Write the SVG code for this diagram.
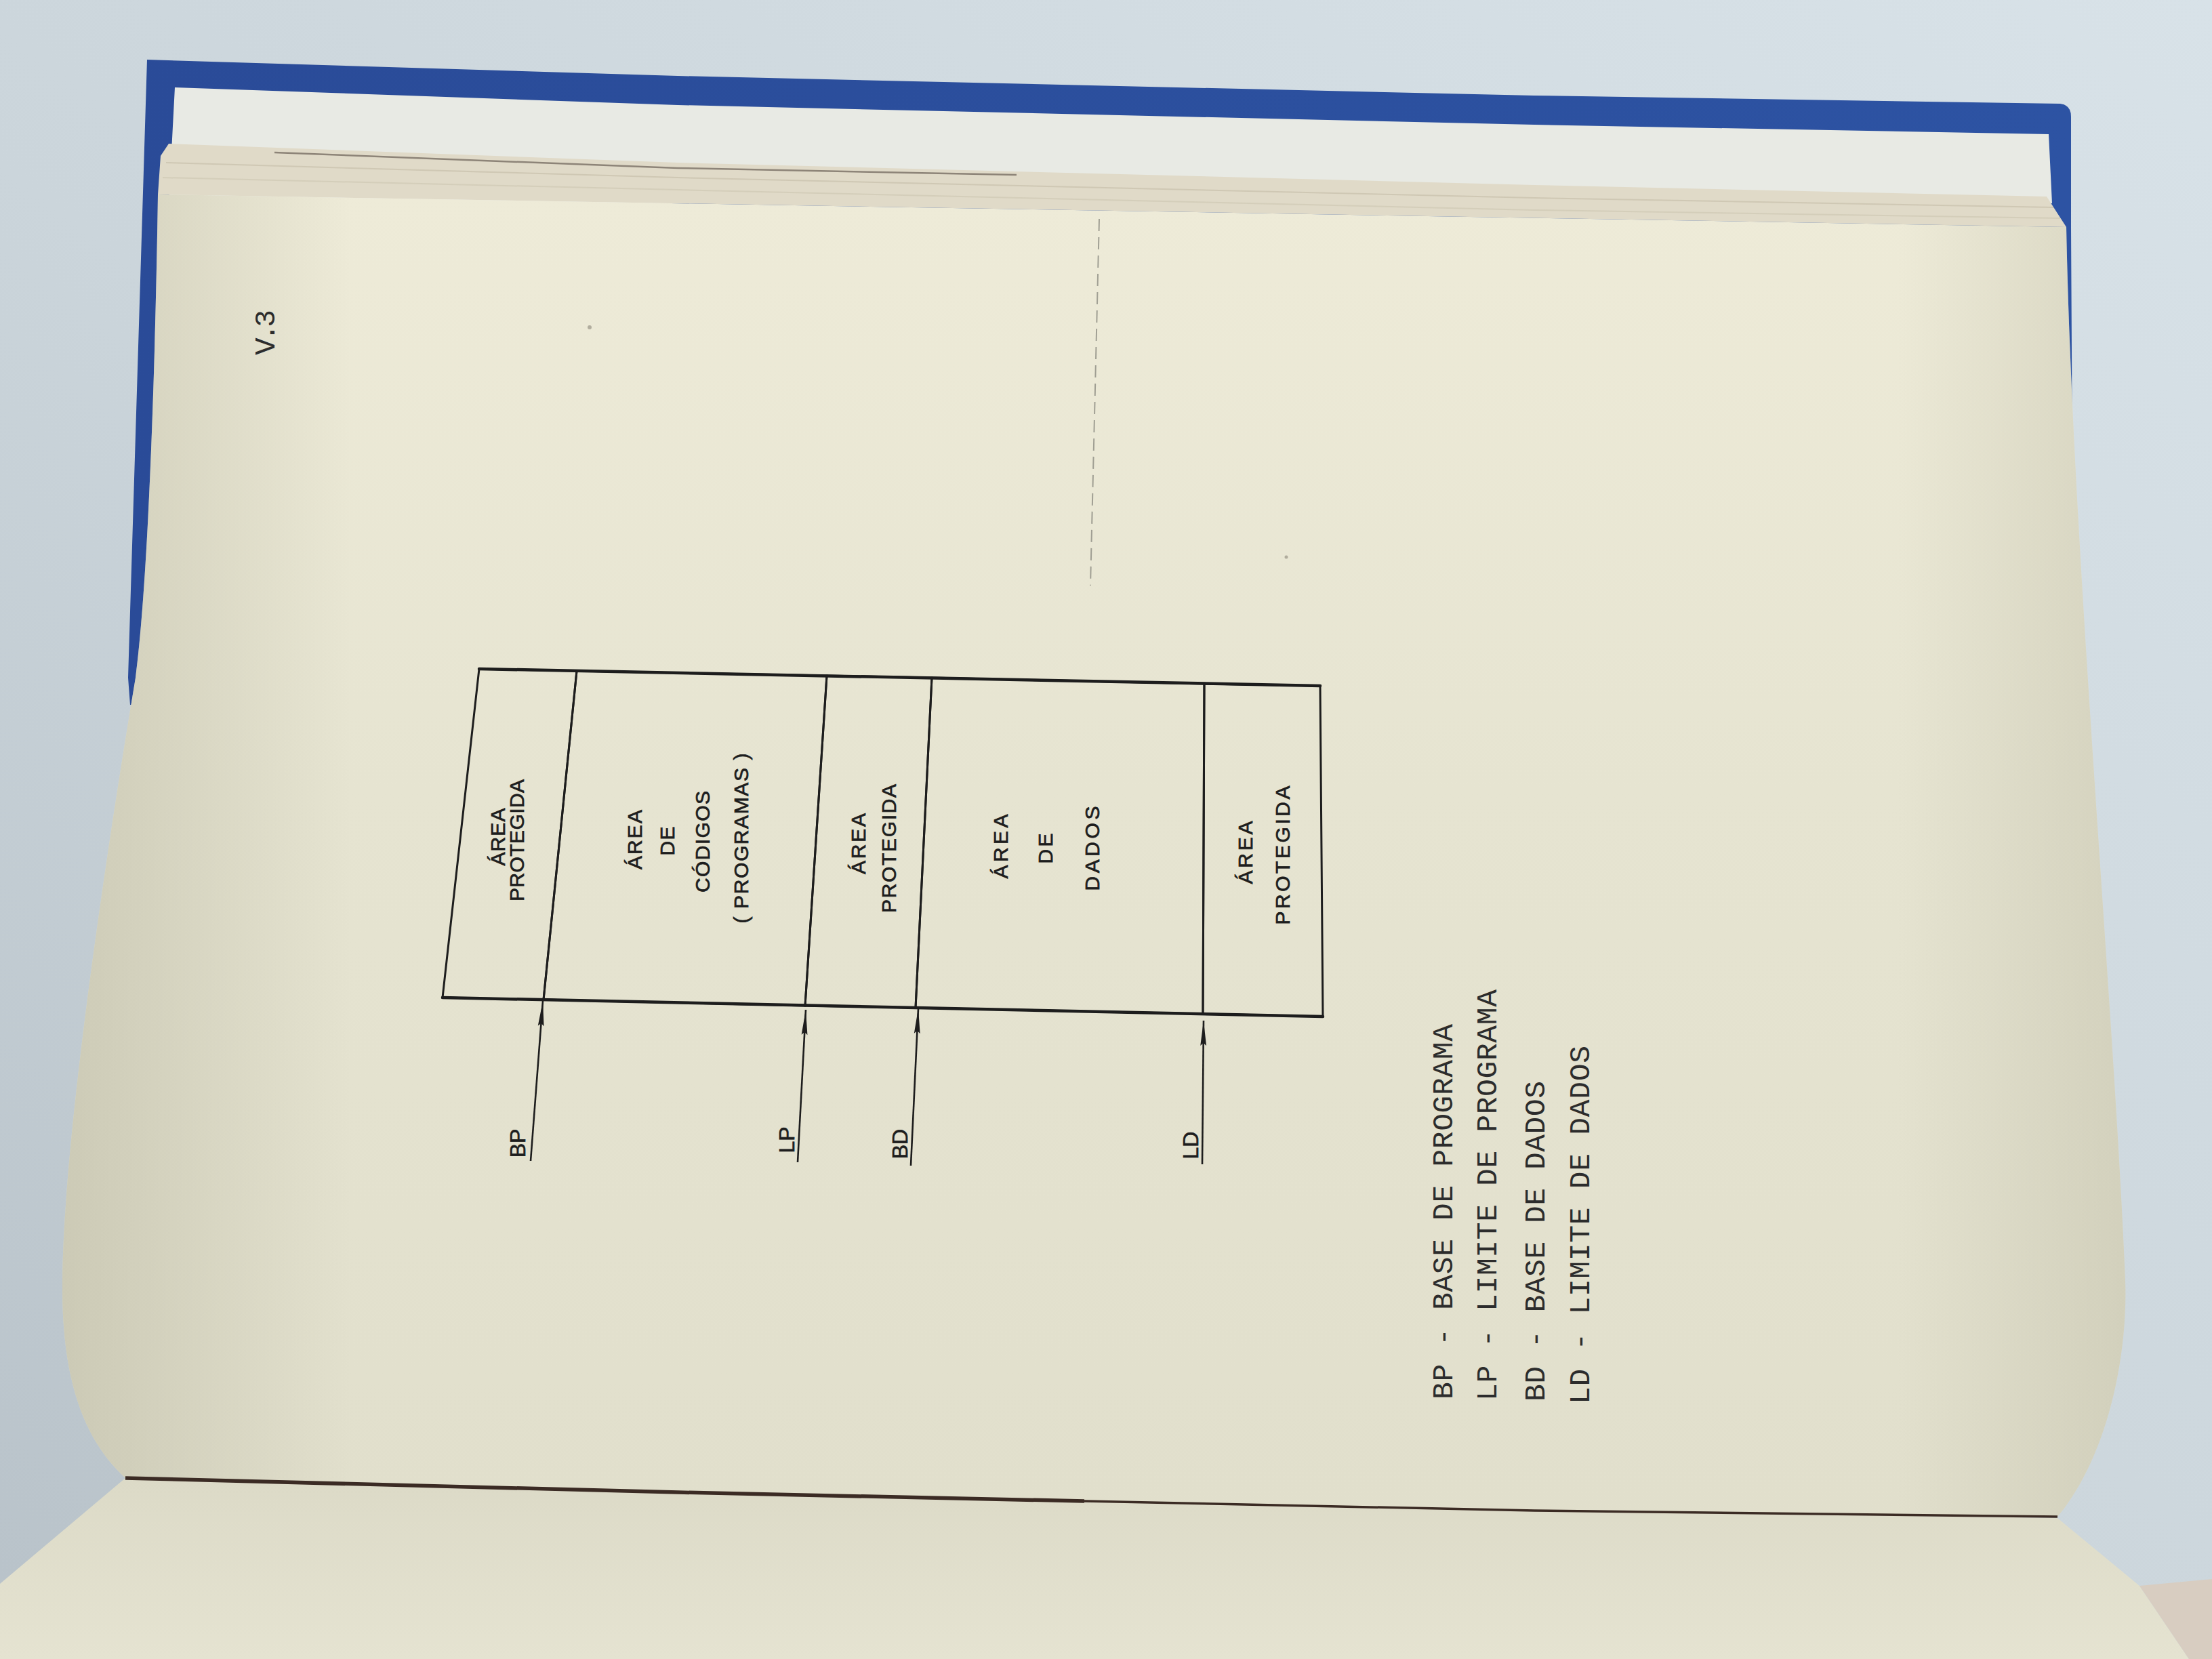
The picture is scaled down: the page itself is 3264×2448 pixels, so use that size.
<svg xmlns="http://www.w3.org/2000/svg" width="3264" height="2448" viewBox="0 0 3264 2448">
  <defs>
    <linearGradient id="bg" x1="1" y1="0" x2="0" y2="1">
      <stop offset="0" stop-color="#d8e2e8"/>
      <stop offset="0.55" stop-color="#cbd5db"/>
      <stop offset="1" stop-color="#b8c2c9"/>
    </linearGradient>
    <linearGradient id="paper" x1="0" y1="0" x2="0" y2="1">
      <stop offset="0" stop-color="#eeebd8"/>
      <stop offset="0.45" stop-color="#e6e4d1"/>
      <stop offset="1" stop-color="#e1dfcc"/>
    </linearGradient>
    <linearGradient id="paperEdgeL" x1="0" y1="0" x2="1" y2="0">
      <stop offset="0" stop-color="#bdbba6" stop-opacity="0.6"/>
      <stop offset="1" stop-color="#bdbba6" stop-opacity="0"/>
    </linearGradient>
    <linearGradient id="paperEdgeR" x1="1" y1="0" x2="0" y2="0">
      <stop offset="0" stop-color="#c2c0ab" stop-opacity="0.5"/>
      <stop offset="1" stop-color="#c2c0ab" stop-opacity="0"/>
    </linearGradient>
    <linearGradient id="lower" x1="0" y1="0" x2="0" y2="1">
      <stop offset="0" stop-color="#dcdac7"/>
      <stop offset="1" stop-color="#e5e3d1"/>
    </linearGradient>
    <linearGradient id="cover" x1="0" y1="0" x2="1" y2="0">
      <stop offset="0" stop-color="#2a4b98"/>
      <stop offset="1" stop-color="#2d53a3"/>
    </linearGradient>
    <marker id="head" markerUnits="userSpaceOnUse" markerWidth="40" markerHeight="12" viewBox="0 0 40 12" refX="38" refY="6" orient="auto">
      <path d="M1,1.6 L38,6 L1,10.4 L5,6 Z" fill="#1d1d1d"/>
    </marker>
    <style>
      .cell { fill: none; stroke: #1d1d1d; stroke-width: 3; }
      .frame { fill: none; stroke: #1d1d1d; stroke-width: 4.5; stroke-linecap: round; }
      .lbl { font-family: "Liberation Sans", Arial, sans-serif; font-size: 30px; fill: #1d1d1d; stroke: #1d1d1d; stroke-width: 0.7; text-anchor: middle; }
      .ptr { font-family: "Liberation Sans", Arial, sans-serif; font-size: 32px; fill: #1d1d1d; stroke: #1d1d1d; stroke-width: 0.6; text-anchor: middle; }
      .leg { font-family: "Liberation Mono", "Courier New", monospace; font-size: 43px; fill: #2c2c2c; }
      .conn { fill: none; stroke: #1d1d1d; stroke-width: 2.6; marker-end: url(#head); }
    </style>
  </defs>

  <!-- table surface -->
  <rect x="0" y="0" width="3264" height="2448" fill="url(#bg)"/>

  <!-- blue hard cover -->
  <path d="M217,88 L1000,112 L2264,141 L3040,153 Q3056,155 3056,172 L3056,335 L3058,700 L2000,1000 L192,1040 L189,1000 Z" fill="url(#cover)"/>

  <!-- inside of the cover / endpaper -->
  <path d="M258,129 L1000,155 L2264,184 L3023,198 L3028,300 L249,300 Z" fill="#e8eae4"/>

  <!-- edges of the page block -->
  <path d="M249,212 L1000,240 L2264,273 L3020,290 L3049,335 L233,287 L237,230 Z" fill="#e0dac8"/>
  <path d="M405,225 L1000,248 L1500,258" fill="none" stroke="#6a5f55" stroke-width="2.5" opacity="0.7"/>
  <path d="M245,240 L1000,262 L2264,292 L3030,306" fill="none" stroke="#cbc3af" stroke-width="2" opacity="0.8"/>
  <path d="M240,262 L1000,280 L2264,310 L3040,322" fill="none" stroke="#d1cab7" stroke-width="2" opacity="0.8"/>

  <!-- lower facing page below the fold -->
  <path d="M185,2181 L1000,2202 L2264,2229 L3036,2240 L3157,2340 L3230,2448 L0,2448 L0,2337 Z" fill="url(#lower)"/>
  <path d="M3157,2340 L3264,2330 L3264,2448 L3230,2448 Z" fill="#d8cdc1"/>

  <!-- the printed page -->
  <path d="M233,287 L3049,335 C3058,800 3120,1500 3136,1890 C3140,2000 3110,2150 3036,2238 L2264,2229 L1000,2202 L185,2181 C130,2130 92,2050 92,1900 C92,1700 150,1300 200,1000 C220,850 230,500 233,287 Z" fill="url(#paper)"/>
  <path d="M233,287 L520,292 L520,2188 L185,2181 C130,2130 92,2050 92,1900 C92,1700 150,1300 200,1000 C220,850 230,500 233,287 Z" fill="url(#paperEdgeL)"/>
  <path d="M2800,330 L3049,335 C3058,800 3120,1500 3136,1890 C3140,2000 3110,2150 3036,2238 L2800,2234 Z" fill="url(#paperEdgeR)"/>

  <!-- binding fold, heavier toward the left -->
  <path d="M185,2181 L1000,2202 L1600,2215" fill="none" stroke="#3b2b24" stroke-width="5.5"/>
  <path d="M1600,2215 L2264,2229 L3036,2238" fill="none" stroke="#3b2b24" stroke-width="3.5"/>

  <!-- faint show-through line and specks on the paper -->
  <line x1="1622" y1="323" x2="1609" y2="864" stroke="#6f6f68" stroke-width="2" stroke-dasharray="18 9" opacity="0.6"/>
  <circle cx="870" cy="483" r="3" fill="#8a8578" opacity="0.6"/>
  <circle cx="1898" cy="822" r="2.5" fill="#8a8578" opacity="0.6"/>

  <!-- page number -->
  <text class="leg" font-size="38" transform="translate(405,524) rotate(-90)" textLength="67" lengthAdjust="spacing">V.3</text>

  <!-- memory layout: outer frame -->
  <g id="frame">
    <line class="frame" x1="707" y1="987" x2="1948" y2="1012"/>
    <line class="frame" x1="653" y1="1472" x2="1952" y2="1500"/>
  </g>

  <g id="area-protegida-1">
    <polygon class="cell" points="707,987 851,990 802,1475 653,1472"/>
    <text class="lbl" transform="translate(745,1235) rotate(-90)" textLength="85" lengthAdjust="spacing">ÁREA</text>
    <text class="lbl" transform="translate(773,1240) rotate(-90)" textLength="180" lengthAdjust="spacing">PROTEGIDA</text>
  </g>

  <g id="area-codigos">
    <polygon class="cell" points="851,990 1220,997 1188,1484 802,1475"/>
    <text class="lbl" transform="translate(947,1239) rotate(-90)" textLength="88" lengthAdjust="spacing">ÁREA</text>
    <text class="lbl" transform="translate(995,1241) rotate(-90)" textLength="43" lengthAdjust="spacing">DE</text>
    <text class="lbl" transform="translate(1047,1242) rotate(-90)" textLength="150" lengthAdjust="spacing">CÓDIGOS</text>
    <text class="lbl" transform="translate(1104,1237) rotate(-90)" textLength="251" lengthAdjust="spacing">( PROGRAMAS )</text>
  </g>

  <g id="area-protegida-2">
    <polygon class="cell" points="1220,997 1375,1000 1351,1487 1188,1484"/>
    <text class="lbl" transform="translate(1277,1245) rotate(-90)" textLength="90" lengthAdjust="spacing">ÁREA</text>
    <text class="lbl" transform="translate(1322,1252) rotate(-90)" textLength="190" lengthAdjust="spacing">PROTEGIDA</text>
  </g>

  <g id="area-dados">
    <polygon class="cell" points="1375,1000 1777,1009 1775,1496 1351,1487"/>
    <text class="lbl" transform="translate(1487,1249) rotate(-90)" textLength="95" lengthAdjust="spacing">ÁREA</text>
    <text class="lbl" transform="translate(1553,1252) rotate(-90)" textLength="45" lengthAdjust="spacing">DE</text>
    <text class="lbl" transform="translate(1622,1252) rotate(-90)" textLength="125" lengthAdjust="spacing">DADOS</text>
  </g>

  <g id="area-protegida-3">
    <polygon class="cell" points="1777,1009 1948,1012 1952,1500 1775,1496"/>
    <text class="lbl" transform="translate(1848,1258) rotate(-90)" textLength="93" lengthAdjust="spacing">ÁREA</text>
    <text class="lbl" transform="translate(1903,1262) rotate(-90)" textLength="205" lengthAdjust="spacing">PROTEGIDA</text>
  </g>

  <!-- register pointers -->
  <g id="connectors">
    <line class="conn" x1="783" y1="1713" x2="801" y2="1477"/>
    <line class="conn" x1="1177" y1="1715" x2="1189" y2="1490"/>
    <line class="conn" x1="1344" y1="1720" x2="1355" y2="1488"/>
    <line class="conn" x1="1774" y1="1718" x2="1776" y2="1506"/>
  </g>

  <g id="ptr-bp">
    <text class="ptr" transform="translate(775,1687) rotate(-90)">BP</text>
  </g>
  <g id="ptr-lp">
    <text class="ptr" transform="translate(1172,1682) rotate(-90)">LP</text>
  </g>
  <g id="ptr-bd">
    <text class="ptr" transform="translate(1339,1688) rotate(-90)">BD</text>
  </g>
  <g id="ptr-ld">
    <text class="ptr" transform="translate(1768,1690) rotate(-90)">LD</text>
  </g>

  <!-- legend -->
  <g id="legend">
    <text class="leg" transform="translate(2143,2065) rotate(-90)" textLength="554" lengthAdjust="spacing">BP - BASE DE PROGRAMA</text>
    <text class="leg" transform="translate(2208,2067) rotate(-90)" textLength="607" lengthAdjust="spacing">LP - LIMITE DE PROGRAMA</text>
    <text class="leg" transform="translate(2279,2068) rotate(-90)" textLength="473" lengthAdjust="spacing">BD - BASE DE DADOS</text>
    <text class="leg" transform="translate(2345,2072) rotate(-90)" textLength="529" lengthAdjust="spacing">LD - LIMITE DE DADOS</text>
  </g>
</svg>
